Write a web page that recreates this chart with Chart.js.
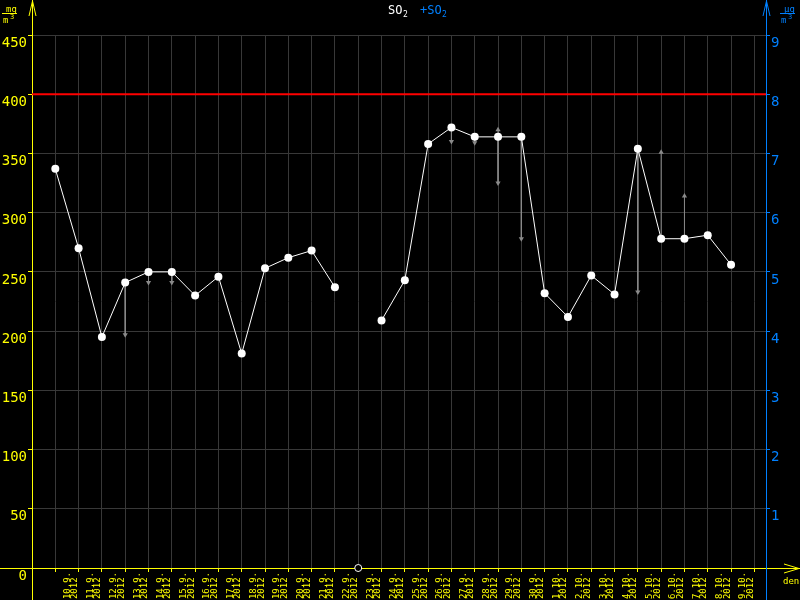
<!DOCTYPE html>
<html>
<head>
<meta charset="utf-8">
<script src="https://cdn.jsdelivr.net/npm/chart.js@4.4.0/dist/chart.umd.min.js"></script>
<style>
  body { margin: 0; background: #000; }
  canvas { display: block; }
</style>
</head>
<body>
<canvas id="so2-chart" width="800" height="600"></canvas>
<script>
// Days on the x axis
const days = [
  "10.9.", "11.9.", "12.9.", "13.9.", "14.9.", "15.9.", "16.9.", "17.9.",
  "18.9.", "19.9.", "20.9.", "21.9.", "22.9.", "23.9.", "24.9.", "25.9.",
  "26.9.", "27.9.", "28.9.", "29.9.", "30.9.", "1.10.", "2.10.", "3.10.",
  "4.10.", "5.10.", "6.10.", "7.10.", "8.10.", "9.10.",
];
const year = "2012";

// SO2 daily values (mg/m3), null = no data
const so2 = [
  337, 270, 195, 241, 250, 250, 230, 246, 181, 253, 262, 268, 237, null, 209,
  243, 358, 372, 364, 364, 364, 232, 212, 247, 231, 354, 278, 278, 281, 256,
];

// grey arrows starting at a point, value of the arrow tip
const arrowDown = [
  null, null, null, 197, 241, 241, null, null, null, null, null, null, null, null, null,
  null, null, 360, 359, 325, 278, null, null, null, null, 233, null, null, null, null,
];
const arrowUp = [
  null, null, null, null, null, null, null, null, null, null, null, null, null, null, null,
  null, null, null, null, 370, null, null, null, null, null, null, 351, 314, null, null,
];

const limitValue = 400;
const mgTicks = [0, 50, 100, 150, 200, 250, 300, 350, 400, 450];
const ugTicks = [1, 2, 3, 4, 5, 6, 7, 8, 9];

const yellow = "#ffff00";
const blue = "#0080ff";
const gridGray = "#383838";
const arrowGray = "#8a8a8a";
const mono = "'DejaVu Sans Mono', monospace";

// build the points from the arrays
const mainPoints = so2.map((v, i) => ({ x: i, y: v }));
const missingPoints = [];
so2.forEach((v, i) => {
  if (v === null) missingPoints.push({ x: i, y: 0 });
});
const shaftPoints = [];
const downHeads = [];
const upHeads = [];
so2.forEach((v, i) => {
  if (arrowDown[i] !== null) {
    shaftPoints.push({ x: i, y: v }, { x: i, y: arrowDown[i] }, { x: i, y: null });
    downHeads.push({ x: i, y: arrowDown[i] });
  }
  if (arrowUp[i] !== null) {
    shaftPoints.push({ x: i, y: v }, { x: i, y: arrowUp[i] }, { x: i, y: null });
    upHeads.push({ x: i, y: arrowUp[i] });
  }
});

function strokeLine(ctx, x1, y1, x2, y2) {
  ctx.beginPath();
  ctx.moveTo(x1, y1);
  ctx.lineTo(x2, y2);
  ctx.stroke();
}

function drawFraction(ctx, x, top, num, color) {
  ctx.fillStyle = color;
  ctx.strokeStyle = color;
  ctx.font = "9px " + mono;
  ctx.textAlign = "left";
  ctx.textBaseline = "alphabetic";
  ctx.fillText(num, x + 4, top + 7);
  strokeLine(ctx, x, top + 8.5, x + 15, top + 8.5);
  ctx.fillText("m", x + 1, top + 18);
  ctx.font = "7px " + mono;
  ctx.fillText("3", x + 8, top + 14);
}

// axes, arrows, title and units
const decorPlugin = {
  id: "decor",
  beforeDatasetsDraw(chart) {
    const ctx = chart.ctx;
    const a = chart.chartArea;
    ctx.save();
    ctx.lineWidth = 1;

    // x axis
    ctx.strokeStyle = yellow;
    strokeLine(ctx, 0, a.bottom + 0.5, 800, a.bottom + 0.5);
    strokeLine(ctx, 799, a.bottom + 0.5, 784, a.bottom - 4);
    strokeLine(ctx, 799, a.bottom + 0.5, 784, a.bottom + 5);

    // left axis
    strokeLine(ctx, a.left + 0.5, 0, a.left + 0.5, 600);
    strokeLine(ctx, a.left + 0.5, 1, a.left - 3, 16);
    strokeLine(ctx, a.left + 0.5, 1, a.left + 4, 16);

    // right axis
    ctx.strokeStyle = blue;
    strokeLine(ctx, a.right + 0.5, 0, a.right + 0.5, 600);
    strokeLine(ctx, a.right + 0.5, 1, a.right - 3, 16);
    strokeLine(ctx, a.right + 0.5, 1, a.right + 4, 16);
    ctx.restore();
  },
  afterDraw(chart) {
    const ctx = chart.ctx;
    ctx.save();
    ctx.lineWidth = 1;

    // title
    ctx.textAlign = "left";
    ctx.textBaseline = "alphabetic";
    ctx.fillStyle = "#ffffff";
    ctx.font = "12px " + mono;
    ctx.fillText("SO", 388, 14);
    ctx.font = "8px " + mono;
    ctx.fillText("2", 403, 17);
    ctx.fillStyle = blue;
    ctx.font = "12px " + mono;
    ctx.fillText("+SO", 420, 14);
    ctx.font = "8px " + mono;
    ctx.fillText("2", 442, 17);

    // units
    drawFraction(ctx, 2, 5, "mg", yellow);
    drawFraction(ctx, 780, 5, "\u00b5g", blue);
    ctx.fillStyle = yellow;
    ctx.font = "9px " + mono;
    ctx.fillText("den", 783, 584);
    ctx.restore();
  },
};

new Chart(document.getElementById("so2-chart"), {
  type: "line",
  data: {
    datasets: [
      {
        data: mainPoints,
        borderColor: "#ffffff",
        borderWidth: 1,
        pointRadius: 4,
        pointBackgroundColor: "#ffffff",
        pointBorderWidth: 0,
        spanGaps: false,
        order: 0,
      },
      {
        data: missingPoints,
        showLine: false,
        pointRadius: 3.5,
        pointBackgroundColor: "#000000",
        pointBorderColor: "#ffffff",
        pointBorderWidth: 1,
        clip: false,
        order: 0,
      },
      {
        data: shaftPoints,
        borderColor: arrowGray,
        borderWidth: 1,
        pointRadius: 0,
        spanGaps: false,
        order: 2,
      },
      {
        data: downHeads,
        showLine: false,
        pointStyle: "triangle",
        rotation: 180,
        pointRadius: 3,
        pointBackgroundColor: arrowGray,
        pointBorderWidth: 0,
        order: 1,
      },
      {
        data: upHeads,
        showLine: false,
        pointStyle: "triangle",
        rotation: 0,
        pointRadius: 3,
        pointBackgroundColor: arrowGray,
        pointBorderWidth: 0,
        order: 1,
      },
      {
        data: [
          { x: -1, y: limitValue },
          { x: 30.5, y: limitValue },
        ],
        borderColor: "#ff0000",
        borderWidth: 2,
        pointRadius: 0,
        order: 5,
      },
    ],
  },
  options: {
    responsive: false,
    animation: false,
    events: [],
    layout: { padding: { top: 35, left: 0, right: 0, bottom: 0 } },
    plugins: {
      legend: { display: false },
      tooltip: { enabled: false },
    },
    scales: {
      x: {
        type: "linear",
        min: -1,
        max: 30.5,
        offset: false,
        border: { display: false },
        grid: {
          color: gridGray,
          tickColor: yellow,
          tickLength: 4,
          offset: false,
        },
        ticks: {
          stepSize: 1,
          autoSkip: false,
          minRotation: 90,
          maxRotation: 90,
          padding: 0,
          labelOffset: 12,
          color: yellow,
          font: { family: mono, size: 9, lineHeight: "7.5px" },
          callback: function (value) {
            if (Number.isInteger(value) && value >= 0 && value < days.length) {
              return [days[value], year + " "];
            }
            return "";
          },
        },
        afterFit: function (scale) {
          scale.height = 32;
        },
      },
      y: {
        position: "left",
        min: 0,
        max: 450,
        border: { display: false },
        grid: { color: gridGray, tickColor: yellow, tickLength: 4 },
        ticks: {
          padding: 1,
          labelOffset: 8,
          color: yellow,
          font: { family: mono, size: 14 },
        },
        afterBuildTicks: function (scale) {
          scale.ticks = mgTicks.map((v) => ({ value: v }));
        },
        afterFit: function (scale) {
          scale.width = 32;
        },
      },
      y2: {
        position: "right",
        min: 0,
        max: 9,
        border: { display: false },
        grid: { drawOnChartArea: false, tickColor: blue, tickLength: 4 },
        ticks: {
          padding: 1,
          labelOffset: 8,
          color: blue,
          font: { family: mono, size: 14 },
        },
        afterBuildTicks: function (scale) {
          scale.ticks = ugTicks.map((v) => ({ value: v }));
        },
        afterFit: function (scale) {
          scale.width = 34;
        },
      },
    },
  },
  plugins: [decorPlugin],
});
</script>
</body>
</html>
